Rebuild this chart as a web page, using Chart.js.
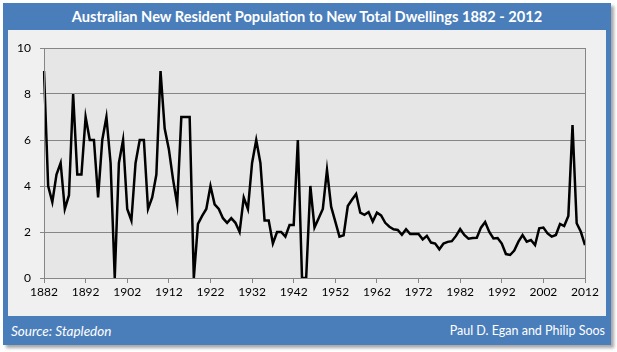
<!DOCTYPE html>
<html>
<head>
<meta charset="utf-8">
<script src="https://cdn.jsdelivr.net/npm/chart.js@4/dist/chart.umd.min.js"></script>
<style>
  body { margin: 0; background: #fff; width: 617px; height: 352px; overflow: hidden; font-family: Lato, "Open Sans", sans-serif; }
  #frame { position: absolute; left: 3px; top: 3px; width: 608px; height: 342px; background: #4a7ebb; box-shadow: 3px 3px 3px rgba(0,0,0,0.35); }
  #title { position: absolute; left: 0; top: 0; width: 608px; height: 27px; line-height: 28px; text-align: center; color: #fff; font-weight: bold; font-size: 14.6px; }
  #panel { position: absolute; left: 5px; top: 27px; width: 598px; height: 286px; background: #f0f0f0; }
  #source { position: absolute; left: 8px; top: 314px; height: 28px; line-height: 28px; color: #fff; font-style: italic; font-size: 13.5px; }
  #credit { position: absolute; right: 6px; top: 314px; height: 28px; line-height: 28px; color: #fff; font-size: 12.5px; }
</style>
</head>
<body>
<div id="frame">
  <div id="title">Australian New Resident Population to New Total Dwellings 1882 - 2012</div>
  <div id="panel"><canvas id="lineChart" width="598" height="286"></canvas></div>
  <div id="source">Source: Stapledon</div>
  <div id="credit">Paul D. Egan and Philip Soos</div>
</div>
<script>
const firstYear = 1882;
const lastYear = 2012;
const years = [];
for (let y = firstYear; y <= lastYear; y++) years.push(String(y));

// ratio of new resident population to new dwellings, one value per year
const ratio = [
    9.0, 4.0, 3.3, 4.5, 5.0, 3.0, 3.6, 8.0, 4.5, 4.5,      // 1882-1891
    7.0, 6.0, 6.0, 3.5, 6.0, 7.0, 5.0, 0.0, 5.0, 6.0,      // 1892-1901
    3.0, 2.5, 5.0, 6.0, 6.0, 3.0, 3.5, 4.5, 9.0, 6.5,      // 1902-1911
    5.6, 4.3, 3.2, 7.0, 7.0, 7.0, 0.0, 2.35, 2.7, 3.0,     // 1912-1921
    4.0, 3.2, 3.0, 2.6, 2.4, 2.6, 2.4, 2.0, 3.5, 3.0,      // 1922-1931
    5.0, 6.0, 5.0, 2.5, 2.5, 1.5, 2.0, 2.0, 1.8, 2.3,      // 1932-1941
    2.3, 6.0, 0.0, 0.0, 4.0, 2.2, 2.6, 3.0, 4.7, 3.1,      // 1942-1951
    2.45, 1.8, 1.86, 3.13, 3.4, 3.65, 2.84, 2.75, 2.87, 2.46, // 1952-1961
    2.84, 2.72, 2.4, 2.23, 2.12, 2.09, 1.88, 2.12, 1.91, 1.91, // 1962-1971
    1.91, 1.68, 1.83, 1.54, 1.5, 1.25, 1.5, 1.57, 1.6, 1.83,  // 1972-1981
    2.13, 1.87, 1.71, 1.74, 1.75, 2.19, 2.43, 2.0, 1.72, 1.74, // 1982-1991
    1.5, 1.04, 1.0, 1.19, 1.58, 1.87, 1.58, 1.65, 1.43, 2.16,  // 1992-2001
    2.19, 1.94, 1.8, 1.87, 2.35, 2.26, 2.7, 6.65, 2.38, 2.01,  // 2002-2011
    1.43                                                       // 2012
];

const yTicks = [0, 2, 4, 6, 8, 10];

// plot background and frame
const plotFrame = {
    id: 'plotFrame',
    beforeDraw(chart) {
        const { ctx, chartArea: a } = chart;
        ctx.save();
        ctx.fillStyle = '#e6e6e6';
        ctx.fillRect(a.left, a.top, a.right - a.left, a.bottom - a.top);
        ctx.restore();
    },
    afterDatasetsDraw(chart) {
        const { ctx, chartArea: a } = chart;
        ctx.save();
        ctx.strokeStyle = '#868686';
        ctx.lineWidth = 1;
        ctx.strokeRect(Math.round(a.left) + 0.5, Math.round(a.top) + 0.5, Math.round(a.right - a.left), Math.round(a.bottom - a.top));
        ctx.restore();
    }
};

const lineData = {
    labels: years,
    datasets: [{
        data: ratio,
        borderColor: '#000',
        borderWidth: 2.5,
        pointRadius: 0,
        tension: 0,
        fill: false
    }]
};

const lineConfig = {
    type: 'line',
    data: lineData,
    plugins: [plotFrame],
    options: {
        responsive: false,
        animation: false,
        layout: { padding: { top: 18, right: 21, left: 0, bottom: 0 } },
        plugins: {
            legend: { display: false },
            tooltip: { enabled: false }
        },
        scales: {
            x: {
                type: 'category',
                offset: false,
                afterFit: s => { s.height = 38; },
                grid: { drawOnChartArea: false, drawTicks: true, tickLength: 5, color: '#868686' },
                border: { color: '#868686' },
                ticks: {
                    autoSkip: false,
                    maxRotation: 0,
                    padding: 2,
                    color: '#000',
                    font: { family: 'Lato', size: 12 },
                    callback: function (v, i) {
                        const y = Number(years[i]);
                        return (y - firstYear) % 10 === 0 ? years[i] : null;
                    }
                }
            },
            y: {
                min: 0,
                max: 10,
                afterFit: s => { s.width = 36; },
                afterBuildTicks: s => { s.ticks = yTicks.map(v => ({ value: v })); },
                grid: { color: '#868686', tickLength: 4 },
                border: { color: '#868686' },
                ticks: {
                    padding: 9,
                    color: '#000',
                    font: { family: 'Lato', size: 12 }
                }
            }
        }
    }
};

new Chart(document.getElementById('lineChart'), lineConfig);
</script>
</body>
</html>
